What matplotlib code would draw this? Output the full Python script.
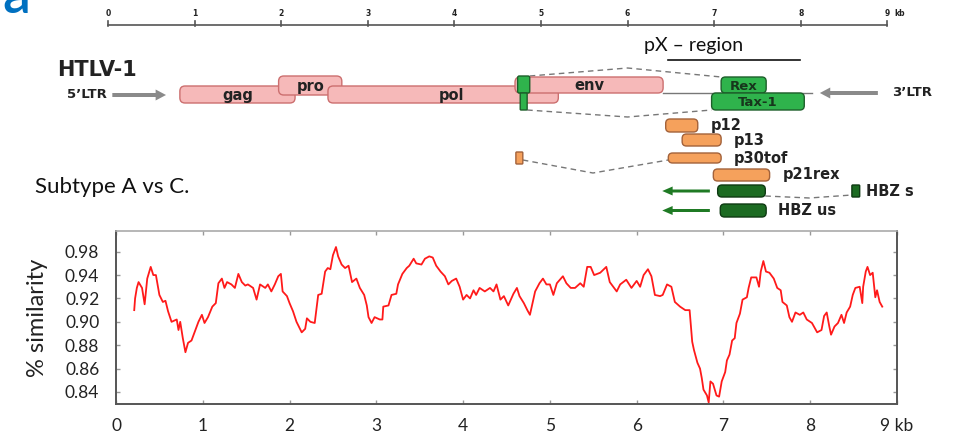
import numpy as np
import matplotlib
matplotlib.use("Agg")
import matplotlib.pyplot as plt
from matplotlib.patches import FancyBboxPatch, FancyArrow

# Similarity along the genome (kb) for subtype A vs C
pos_kb = [0.21, 0.22, 0.24, 0.26, 0.30, 0.33, 0.36, 0.40, 0.43, 0.46, 0.50, 0.54, 0.57, 0.60,
          0.64, 0.70, 0.72, 0.74, 0.77, 0.80, 0.83, 0.87, 0.91, 0.95, 0.99, 1.02, 1.06, 1.11,
          1.15, 1.18, 1.22, 1.25, 1.28, 1.33, 1.37, 1.41, 1.45, 1.49, 1.52, 1.58, 1.62, 1.66,
          1.72, 1.75, 1.79, 1.83, 1.87, 1.90, 1.92, 1.97, 2.00, 2.04, 2.08, 2.12, 2.14, 2.18,
          2.20, 2.24, 2.29, 2.33, 2.37, 2.41, 2.44, 2.47, 2.50, 2.535, 2.56, 2.60, 2.64, 2.68,
          2.72, 2.77, 2.81, 2.86, 2.89, 2.91, 2.945, 2.98, 3.04, 3.07, 3.08, 3.14, 3.175, 3.23,
          3.25, 3.30, 3.35, 3.38, 3.43, 3.46, 3.52, 3.56, 3.61, 3.65, 3.69, 3.74, 3.79, 3.83,
          3.87, 3.92, 3.96, 4.00, 4.04, 4.08, 4.12, 4.15, 4.19, 4.25, 4.31, 4.35, 4.385, 4.43,
          4.47, 4.52, 4.58, 4.62, 4.65, 4.70, 4.74, 4.77, 4.80, 4.83, 4.88, 4.92, 4.96, 5.00,
          5.04, 5.08, 5.15, 5.19, 5.24, 5.29, 5.35, 5.39, 5.43, 5.47, 5.51, 5.58, 5.65, 5.69,
          5.73, 5.77, 5.81, 5.88, 5.94, 6.00, 6.04, 6.08, 6.13, 6.17, 6.21, 6.27, 6.30, 6.35,
          6.40, 6.44, 6.50, 6.56, 6.61, 6.64, 6.66, 6.70, 6.73, 6.75, 6.77, 6.81, 6.83, 6.85,
          6.88, 6.92, 6.95, 6.98, 7.02, 7.04, 7.07, 7.10, 7.13, 7.15, 7.19, 7.22, 7.27, 7.29,
          7.32, 7.38, 7.41, 7.43, 7.46, 7.49, 7.53, 7.58, 7.62, 7.66, 7.68, 7.73, 7.76, 7.79,
          7.83, 7.88, 7.92, 7.96, 8.02, 8.08, 8.13, 8.16, 8.19, 8.22, 8.24, 8.28, 8.32, 8.36,
          8.39, 8.42, 8.46, 8.49, 8.52, 8.57, 8.60, 8.61, 8.64, 8.66, 8.69, 8.72, 8.75, 8.77,
          8.80, 8.83]
similarity = [0.910, 0.920, 0.929, 0.934, 0.929, 0.915, 0.937, 0.947, 0.940, 0.940, 0.923, 0.917,
              0.918, 0.909, 0.900, 0.902, 0.893, 0.900, 0.886, 0.874, 0.882, 0.884, 0.892, 0.900,
              0.906, 0.899, 0.904, 0.913, 0.916, 0.933, 0.937, 0.929, 0.934, 0.932, 0.929, 0.941,
              0.934, 0.931, 0.932, 0.929, 0.919, 0.932, 0.929, 0.932, 0.926, 0.932, 0.939, 0.941,
              0.926, 0.922, 0.916, 0.909, 0.900, 0.894, 0.891, 0.894, 0.903, 0.900, 0.899, 0.923,
              0.924, 0.943, 0.946, 0.945, 0.957, 0.964, 0.956, 0.949, 0.946, 0.948, 0.934, 0.937,
              0.929, 0.923, 0.914, 0.904, 0.899, 0.904, 0.902, 0.902, 0.913, 0.914, 0.923, 0.924,
              0.932, 0.941, 0.946, 0.948, 0.954, 0.950, 0.949, 0.954, 0.956, 0.955, 0.948, 0.943,
              0.939, 0.932, 0.935, 0.937, 0.930, 0.919, 0.923, 0.920, 0.927, 0.923, 0.929, 0.926,
              0.929, 0.926, 0.932, 0.919, 0.922, 0.914, 0.924, 0.929, 0.922, 0.916, 0.910, 0.906,
              0.916, 0.926, 0.933, 0.937, 0.932, 0.932, 0.923, 0.933, 0.939, 0.933, 0.929, 0.929,
              0.933, 0.930, 0.947, 0.947, 0.940, 0.942, 0.947, 0.934, 0.930, 0.926, 0.932, 0.936,
              0.929, 0.935, 0.930, 0.940, 0.945, 0.939, 0.923, 0.922, 0.923, 0.932, 0.930, 0.917,
              0.913, 0.910, 0.910, 0.883, 0.876, 0.865, 0.860, 0.852, 0.842, 0.837, 0.831, 0.849,
              0.847, 0.837, 0.836, 0.849, 0.857, 0.867, 0.872, 0.884, 0.886, 0.899, 0.907, 0.919,
              0.921, 0.929, 0.938, 0.938, 0.930, 0.943, 0.952, 0.943, 0.942, 0.937, 0.929, 0.927,
              0.917, 0.914, 0.904, 0.900, 0.908, 0.906, 0.908, 0.902, 0.899, 0.891, 0.893, 0.905,
              0.908, 0.896, 0.889, 0.896, 0.899, 0.906, 0.899, 0.908, 0.913, 0.923, 0.929, 0.930,
              0.916, 0.930, 0.943, 0.947, 0.940, 0.942, 0.921, 0.927, 0.917, 0.913]

# axis ticks (the top label reads 0.98 on the original figure)
ytick_vals = [0.96, 0.94, 0.92, 0.90, 0.88, 0.86, 0.84]
ytick_labels = ["0.98", "0.94", "0.92", "0.90", "0.88", "0.86", "0.84"]
xtick_vals = [0, 1, 2, 3, 4, 5, 6, 7, 8, 9]
xtick_labels = ["0", "1", "2", "3", "4", "5", "6", "7", "8", "9 kb"]
scale_labels = ["0", "1", "2", "3", "4", "5", "6", "7", "8", "9"]

# HTLV-1 genome map: name, start kb, end kb, top row, bottom row
pink_genes = [("gag", 0.83, 2.16, 86, 103), ("pro", 1.97, 2.70, 76, 95),
              ("pol", 2.54, 5.20, 86, 103), ("env", 4.70, 6.41, 77, 93)]
green_genes = [("Rex", 7.08, 7.60, 77, 93), ("Tax-1", 6.97, 8.04, 93, 110)]
orange_orfs = [("p12", 6.44, 6.81, 119, 132), ("p13", 6.63, 7.08, 134, 146),
               ("p30tof", 6.47, 7.08, 153, 163), ("p21rex", 6.99, 7.64, 169, 181)]
hbz_orfs = [("HBZ s", 7.04, 7.59, 185, 197), ("HBZ us", 7.07, 7.60, 204, 217)]

plt.rcParams["font.family"] = ["Lato", "DejaVu Sans"]

fig = plt.figure(figsize=(9.71, 4.37), dpi=100)

# ---- genome map, x in kb, y in pixel rows from the top ----
ASP = 86.6
dm = fig.add_axes([0, 0, 1, 1])
dm.set_xlim(-108 / ASP, (971 - 108) / ASP)
dm.set_ylim(437, 0)
dm.axis("off")
bold = dict(family="DejaVu Sans", fontweight="bold", color="#222222")


def box(x0, x1, y0, y1, fc, ec, lw=1.0, r=0.05):
    p = FancyBboxPatch((x0, y0), x1 - x0, y1 - y0,
                       boxstyle="round,pad=0,rounding_size=%g" % r,
                       mutation_aspect=ASP, fc=fc, ec=ec, lw=lw, zorder=3)
    dm.add_patch(p)


# scale bar
dm.plot([0, 9], [25, 25], color="#555555", lw=1.2)
for k, lab in enumerate(scale_labels):
    dm.plot([k, k], [21, 26], color="#555555", lw=1.2)
    dm.text(k, 13, lab, ha="center", va="center", fontsize=5.5, **bold)
dm.text(9.08, 13, "kb", ha="left", va="center", fontsize=5.5, **bold)

dm.text(-51 / ASP, 70, "HTLV-1", ha="left", va="center", fontsize=15, **bold)
dm.text(-0.01, 95, "5\u2019LTR", ha="right", va="center", fontsize=9.5, **bold)
dm.add_patch(FancyArrow(0.05, 95, 0.62, 0, width=4, head_width=11, head_length=0.12,
                        length_includes_head=True, color="#8a8a8a", lw=0))
dm.add_patch(FancyArrow(8.89, 93, -0.67, 0, width=4, head_width=11, head_length=0.12,
                        length_includes_head=True, color="#8a8a8a", lw=0))
dm.text(9.05, 93, "3\u2019LTR", ha="left", va="center", fontsize=9.5, **bold)

# backbone and splice dashes
dm.plot([6.41, 8.13], [93, 93], color="#777777", lw=1.0, zorder=2)
dash = dict(color="#777777", lw=1.0, ls=(0, (4, 3)), zorder=2)
dm.plot([4.87, 6.0, 7.08], [76, 68, 77], **dash)
dm.plot([4.84, 6.0, 6.97], [110, 117, 110], **dash)
dm.plot([4.79, 5.6, 6.47], [160, 173, 160], **dash)
dm.plot([7.59, 8.1, 8.59], [196, 198, 195], **dash)

for name, x0, x1, y0, y1 in pink_genes:
    box(x0, x1, y0, y1, "#f6b9b9", "#cc6f6f", lw=1.0, r=0.06)
    dm.text((x0 + x1) / 2 + (0.1 if name == "pol" else 0), (y0 + y1) / 2 + 1, name,
            ha="center", va="center", fontsize=10.5, zorder=4, **bold)

# small env exon of rex/tax
box(4.73, 4.87, 76, 93, "#2fb34c", "#1d5f2a", lw=1.0, r=0.02)
box(4.76, 4.84, 93, 110, "#2fb34c", "#1d5f2a", lw=1.0, r=0.01)

for name, x0, x1, y0, y1 in green_genes:
    box(x0, x1, y0, y1, "#2fb34c", "#1d5f2a", lw=1.0, r=0.05)
    dm.text((x0 + x1) / 2, (y0 + y1) / 2 + 1, name, ha="center", va="center",
            fontsize=9.5, zorder=4, family="DejaVu Sans", fontweight="bold", color="#17361c")

for name, x0, x1, y0, y1 in orange_orfs:
    box(x0, x1, y0, y1, "#f5a15c", "#a3623a", lw=1.0, r=0.05)
    dm.text(x1 + 0.15, (y0 + y1) / 2, name, ha="left", va="center", fontsize=10.5, **bold)
box(4.71, 4.79, 152, 164, "#f5a15c", "#a3623a", lw=1.0, r=0.01)

for name, x0, x1, y0, y1 in hbz_orfs:
    box(x0, x1, y0, y1, "#1c6b22", "#0e3a12", lw=1.0, r=0.05)
    yc = (y0 + y1) / 2
    dm.add_patch(FancyArrow(6.95, yc, -0.55, 0, width=3, head_width=9, head_length=0.12,
                            length_includes_head=True, color="#1f7a24", lw=0))
    tx = 8.75 if name == "HBZ s" else x1 + 0.14
    dm.text(tx, yc, name, ha="left", va="center", fontsize=10.5, **bold)
box(8.59, 8.68, 185, 197, "#1c6b22", "#0e3a12", lw=1.0, r=0.01)

# pX region header
dm.text(6.76, 45, "pX \u2013 region", ha="center", va="center", fontsize=14, color="#111111")
dm.plot([6.47, 7.99], [60, 60], color="#111111", lw=1.2)

fig.text(2 / 971, 1 - 13 / 437, "a", ha="left", va="baseline", fontsize=40,
         color="#0070c0", fontweight="semibold")
fig.text(35 / 971, 1 - 193 / 437, "Subtype A vs C.", ha="left", va="baseline",
         fontsize=16, color="#111111")

# ---- similarity plot ----
ax = fig.add_axes([116 / 971, 33 / 437, 781 / 971, 173 / 437])
ax.plot(pos_kb, similarity, color="#ff1a1a", lw=1.3)
ax.set_xlim(0, 9)
ax.set_ylim(0.8297, 0.9777)
ax.set_xticks(xtick_vals)
ax.set_xticklabels(xtick_labels)
ax.set_yticks(ytick_vals)
ax.set_yticklabels(ytick_labels)
ax.tick_params(direction="in", length=3, width=1, color="#999999", labelsize=12.5,
               labelcolor="#222222", top=True, right=True)
ax.tick_params(axis="y", pad=12)
ax.tick_params(axis="x", pad=10)
for s in ["left", "bottom", "right"]:
    ax.spines[s].set_color("#555555")
    ax.spines[s].set_linewidth(1.4)
ax.spines["top"].set_color("#aaaaaa")
ax.spines["top"].set_linewidth(1.2)
ax.set_ylabel("% similarity", fontsize=17, color="#222222")
ax.yaxis.set_label_coords(-0.087, 0.5)

fig.savefig("out.png", dpi=100)
